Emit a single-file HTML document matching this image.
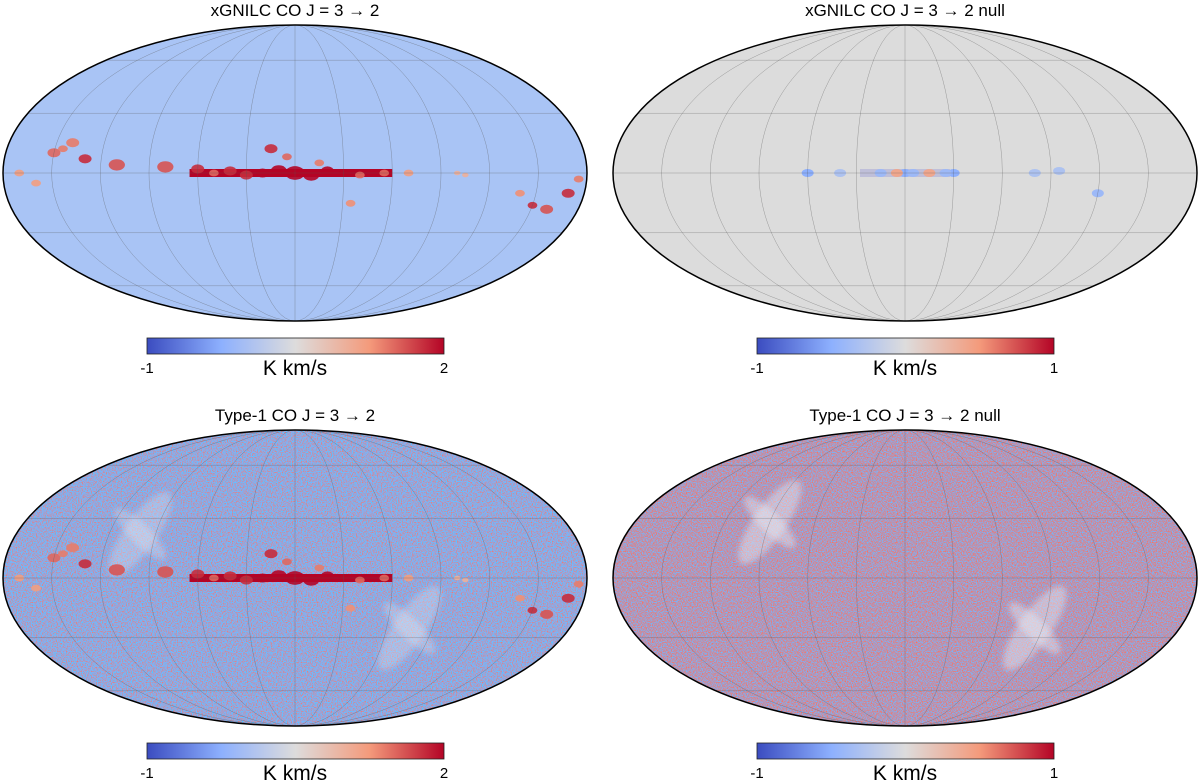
<!DOCTYPE html>
<html><head><meta charset="utf-8"><style>
body{margin:0;background:#fff;width:1200px;height:780px;overflow:hidden}
svg{display:block;font-family:"Liberation Sans","DejaVu Sans",sans-serif}
</style></head><body>
<svg id="fig" width="1200" height="780" viewBox="0 0 1200 780">
<defs>
<linearGradient id="cw" x1="0" x2="1" y1="0" y2="0">
<stop offset="0" stop-color="#3b4cc0"/><stop offset="0.25" stop-color="#8db0fe"/><stop offset="0.5" stop-color="#dddcdc"/><stop offset="0.75" stop-color="#f49a7b"/><stop offset="1" stop-color="#b40426"/>
</linearGradient>
<filter id="noiseBL" x="0" y="0" width="1" height="1" color-interpolation-filters="sRGB">
<feTurbulence type="fractalNoise" baseFrequency="0.8" numOctaves="1" seed="3"/>
<feColorMatrix type="matrix" values="1.2 0 0 0 -0.01  -0.6 0 0 0 0.95  -1.4 0 0 0 1.56  0 0 0 0 1"/>
</filter>
<filter id="noiseBR" x="0" y="0" width="1" height="1" color-interpolation-filters="sRGB">
<feTurbulence type="fractalNoise" baseFrequency="0.8" numOctaves="1" seed="7"/>
<feColorMatrix type="matrix" values="1.2 0 0 0 0.1  -0.6 0 0 0 0.89  -1.4 0 0 0 1.42  0 0 0 0 1"/>
</filter>
<filter id="blur1"><feGaussianBlur stdDeviation="3"/></filter>
</defs>
</svg>
<script>
const NS='http://www.w3.org/2000/svg';
const svg=document.getElementById('fig');
const panelTitles=['xGNILC CO J = 3 → 2','xGNILC CO J = 3 → 2 null','Type-1 CO J = 3 → 2','Type-1 CO J = 3 → 2 null'];
const cbMin=[-1,-1,-1,-1];
const cbMax=[2,1,2,1];
const meridians=[-150,-120,-90,-60,-30,0,30,60,90,120,150];
const parallels=[-60,-30,0,30,60];
const cloudLon=[0,10,-10,20,-20,30,-30,40,-40,50,-55,60,-70,80,110,130,150,170,-170,-150,-160,-175,-100,-105,140,145,15,5,-15,-35,-140,160];
const cloudLat=[0,1,-1,0,1,-1,0,1,-1,0,0,2,0,3,4,7,10,0,-10,-16,-18,-3,0,-1,15,12,12,8,5,-15,-10,-5];
const cloudSize=[6,5,5,4,4,4,3,4,3,3,3,4,3,5,5,4,4,3,4,3,4,3,2,2,4,3,4,3,3,3,3,3];
const cloudVal=[2,2,2,2,2,1.8,2,1.8,1.5,1.5,1.5,1.8,1.2,1.6,1.6,1.8,1.5,1.2,1.8,1.8,1.6,1.4,1,1,1.4,1.4,1.8,1.5,1.4,1.3,1.3,1.2];
const nullLon=[0,5,-5,15,-15,-30,-25,40,60,-80,-120,-95];
const nullLat=[0,0,0,0,0,0,0,0,0,0,-10,1];
const nullVal=[-0.5,0.4,-0.4,-0.4,0.4,-0.5,-0.4,-0.3,-0.5,-0.3,-0.4,-0.3];
const arcLon=[[100,-75],[90,-85]];
const arcLat=[[22,-25],[28,-25]];

const panels=[{cx:295,cy:173,cby:338},{cx:905,cy:173,cby:338},{cx:295,cy:578,cby:743},{cx:905,cy:578,cby:743}];
const RX=292,RY=148;
function theta(phi){const p=phi*Math.PI/180;let t=p;for(let i=0;i<30;i++){const f=2*t+Math.sin(2*t)-Math.PI*Math.sin(p);const d=2+2*Math.cos(2*t);if(Math.abs(d)<1e-9)break;t-=f/d;}return t;}
function proj(P,lon,lat){const t=theta(lat);return [P.cx-RX*(lon/180)*Math.cos(t),P.cy-RY*Math.sin(t)];}
function col(v,mn,mx){const s=Math.max(0,Math.min(1,(v-mn)/(mx-mn)));const st=[[59,76,192],[141,176,254],[221,220,220],[244,154,123],[180,4,38]];const k=Math.min(3,Math.floor(s*4)),f=s*4-k;const a=st[k],b=st[k+1];return `rgb(${a.map((x,i)=>Math.round(x+(b[i]-x)*f)).join(',')})`;}
function mk(tag,attrs,parent){const e=document.createElementNS(NS,tag);for(const k in attrs)e.setAttribute(k,attrs[k]);(parent||svg).appendChild(e);return e;}

panels.forEach((P,i)=>{
  const g=mk('g',{});
  
  
  const cp=mk('clipPath',{id:'clip'+i},svg.querySelector('defs'));
  mk('ellipse',{cx:P.cx,cy:P.cy,rx:RX,ry:RY},cp);
  const inner=mk('g',{'clip-path':`url(#clip${i})`},g);
  if(i<2){const bg=mk('rect',{x:P.cx-RX,y:P.cy-RY,width:2*RX,height:2*RY,fill:i==0?'#a9c4f5':'#dcdcdc'},inner);
    
    }
  else{const bg=mk('rect',{x:P.cx-RX,y:P.cy-RY,width:2*RX,height:2*RY,filter:i==2?'url(#noiseBL)':'url(#noiseBR)'},inner);
    
    
    const op=i==2?0.3:0.45;
    arcLon[i-2].forEach((lon,k)=>{const a=proj(P,lon,arcLat[i-2][k]);
      const e=mk('ellipse',{cx:a[0],cy:a[1],rx:16,ry:50,fill:'#e8eaf2',opacity:op,filter:'url(#blur1)',transform:`rotate(35 ${a[0]} ${a[1]})`},inner);
      
      
      mk('ellipse',{cx:a[0],cy:a[1],rx:10,ry:35,fill:'#e8eaf2',opacity:op,filter:'url(#blur1)',transform:`rotate(-45 ${a[0]} ${a[1]})`},inner);
    });
  }
  if(i==0||i==2){
    const p0=proj(P,65,0),p1=proj(P,-60,0);
    const band=mk('rect',{x:p0[0],y:P.cy-4,width:p1[0]-p0[0],height:8,fill:'#b40426'},inner);
    
    
    cloudLon.forEach((lon,k)=>{const p=proj(P,lon,cloudLat[k]);const s=cloudSize[k]*RX/180;
      const c=mk('ellipse',{cx:p[0],cy:p[1],rx:s,ry:s*0.7,fill:col(cloudVal[k],-1,2),opacity:0.9},inner);
      
      });
  }
  if(i==1){
    mk('rect',{x:P.cx-45,y:P.cy-4,width:90,height:8,fill:'#b8b8d8',opacity:0.8},inner);
    nullLon.forEach((lon,k)=>{const p=proj(P,lon,nullLat[k]);
      const c=mk('ellipse',{cx:p[0],cy:p[1],rx:6,ry:4,fill:col(nullVal[k],-1,1)},inner);
      
      });
  }
  meridians.forEach(m=>{const r=RX*Math.abs(m)/180;const d=m==0?`M${P.cx},${P.cy-RY}V${P.cy+RY}`:
    `M${P.cx},${P.cy-RY}A${r},${RY} 0 0 ${m>0?0:1} ${P.cx},${P.cy+RY}`;
    const l=mk('path',{d:d,fill:'none',stroke:'#555',"stroke-width":0.5,opacity:0.5},inner);
    
    });
  parallels.forEach(pa=>{const y=P.cy-RY*Math.sin(theta(pa));
    const l=mk('line',{x1:P.cx-RX,x2:P.cx+RX,y1:y,y2:y,stroke:'#555',"stroke-width":0.5,opacity:0.5},inner);
    
    });
  const out=mk('ellipse',{cx:P.cx,cy:P.cy,rx:RX,ry:RY,fill:'none',stroke:'#000','stroke-width':1.5},g);
  
  
  const t=mk('text',{x:P.cx,y:P.cy-RY-9,'text-anchor':'middle','font-size':17,fill:'#000'},g);
  t.textContent=panelTitles[i];
  
  
  const cb=mk('rect',{x:P.cx-148,y:P.cby,width:297,height:16,fill:'url(#cw)',stroke:'#222','stroke-width':0.8},g);
  
  
  const l1=mk('text',{x:P.cx-148,y:P.cby+35,'text-anchor':'middle','font-size':15},g);
  l1.textContent=String(cbMin[i]);
  
  
  const l2=mk('text',{x:P.cx+149,y:P.cby+35,'text-anchor':'middle','font-size':15},g);
  l2.textContent=String(cbMax[i]);
  
  
  const u=mk('text',{x:P.cx,y:P.cby+37,'text-anchor':'middle','font-size':21},g);
  u.textContent='K km/s';
  
  
});
</script>
</body></html>
